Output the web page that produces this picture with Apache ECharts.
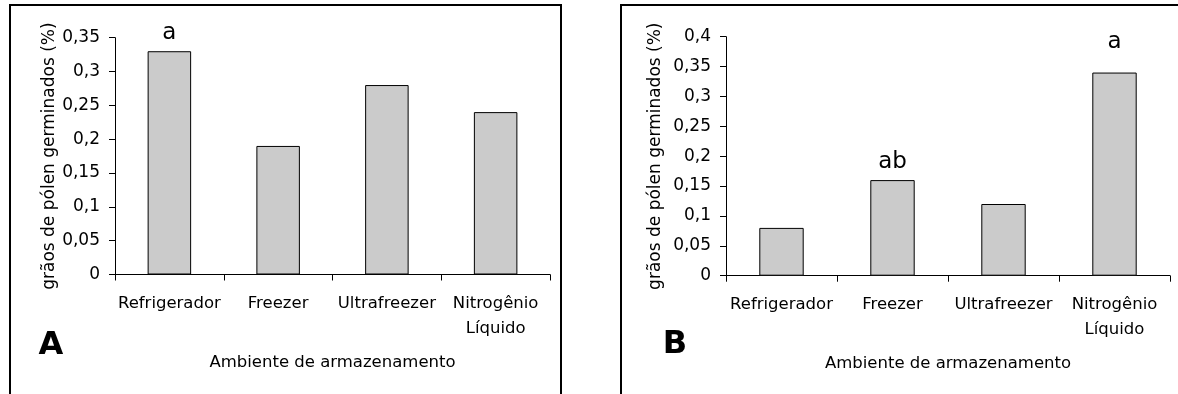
<!DOCTYPE html>
<html>
<head>
<meta charset="utf-8">
<script src="https://cdn.jsdelivr.net/npm/echarts@6/dist/echarts.min.js"></script>
<style>
html,body{margin:0;padding:0;background:#fff;}
#chart{width:1178px;height:394px;}
</style>
</head>
<body>
<div id="chart"></div>
<script>
// ---- data ----
var categories = ['Refrigerador', 'Freezer', 'Ultrafreezer', 'Nitrogênio\nLíquido'];
var valuesA = [0.33, 0.19, 0.28, 0.24];
var valuesB = [0.08, 0.16, 0.12, 0.34];
var lettersA = ['a', '', '', ''];
var lettersB = ['', 'ab', '', 'a'];
var yMaxA = 0.35, yMaxB = 0.4, yStep = 0.05;
var yAxisName = 'grãos de pólen germinados (%)';
var xAxisName = 'Ambiente de armazenamento';
var panelLetters = ['A', 'B'];

// ---- styling / layout ----
var FONT = 'DejaVu Sans';
var extraLiftB = [0, 0, 0, 12];
var extraLiftA = [0, 0, 0, 0];

function fmt(v) { return String(+v.toFixed(2)).replace('.', ','); }

function makeData(values, letters, lift) {
  return values.map(function (v, i) {
    var d = { value: v };
    if (letters[i]) {
      d.label = {
        show: true, position: 'top', distance: 7,
        formatter: letters[i], offset: [0, -lift[i]],
        fontFamily: FONT, fontSize: 23, color: '#000'
      };
    }
    return d;
  });
}

var axisLineStyle = { color: '#000', width: 1 };

function xAx(gi) {
  return {
    type: 'category', gridIndex: gi, data: categories,
    axisLine: { lineStyle: axisLineStyle },
    axisTick: { show: true, length: 6, lineStyle: axisLineStyle },
    axisLabel: { color: '#000', fontFamily: FONT, fontSize: 16.5, margin: 17, lineHeight: 25, interval: 0 },
    name: xAxisName, nameLocation: 'middle', nameGap: 80,
    nameTextStyle: { color: '#000', fontFamily: FONT, fontSize: 16.5 }
  };
}
function yAx(gi, max, gap) {
  return {
    type: 'value', gridIndex: gi, min: 0, max: max, interval: yStep,
    axisLine: { show: true, lineStyle: axisLineStyle },
    axisTick: { show: true, length: 6, lineStyle: axisLineStyle },
    splitLine: { show: false },
    axisLabel: { color: '#000', fontFamily: FONT, fontSize: 17, margin: 15, formatter: fmt },
    name: yAxisName, nameLocation: 'middle', nameGap: gap, nameRotate: 90,
    nameTextStyle: { color: '#000', fontFamily: FONT, fontSize: 17 }
  };
}

var barStyle = { color: '#CBCBCB', borderColor: '#000', borderWidth: 1 };

var option = {
  backgroundColor: '#fff',
  animation: false,
  grid: [
    { left: 115, top: 37.7, width: 435, bottom: 119.5, containLabel: false, outerBoundsMode: 'none' },
    { left: 726, top: 36.7, width: 444, bottom: 118.3, containLabel: false, outerBoundsMode: 'none' }
  ],
  xAxis: [xAx(0), xAx(1)],
  yAxis: [yAx(0, yMaxA, 57), yAx(1, yMaxB, 62)],
  series: [
    { type: 'bar', xAxisIndex: 0, yAxisIndex: 0, barWidth: '40%', itemStyle: barStyle,
      data: makeData(valuesA, lettersA, extraLiftA) },
    { type: 'bar', xAxisIndex: 1, yAxisIndex: 1, barWidth: '40%', itemStyle: barStyle,
      data: makeData(valuesB, lettersB, extraLiftB) }
  ],
  graphic: [
    { type: 'rect', shape: { x: 10, y: 5, width: 551, height: 420 },
      style: { fill: 'none', stroke: '#000', lineWidth: 2 }, silent: true },
    { type: 'rect', shape: { x: 621, y: 5, width: 600, height: 420 },
      style: { fill: 'none', stroke: '#000', lineWidth: 2 }, silent: true },
    { type: 'text', x: 51, y: 346, style: { text: panelLetters[0], font: 'bold 32px "DejaVu Sans"', fill: '#000', align: 'center', verticalAlign: 'middle' } },
    { type: 'text', x: 675, y: 345, style: { text: panelLetters[1], font: 'bold 32px "DejaVu Sans"', fill: '#000', align: 'center', verticalAlign: 'middle' } }
  ]
};

var chart = echarts.init(document.getElementById('chart'), null, { renderer: 'canvas' });
chart.setOption(option);
</script>
</body>
</html>
